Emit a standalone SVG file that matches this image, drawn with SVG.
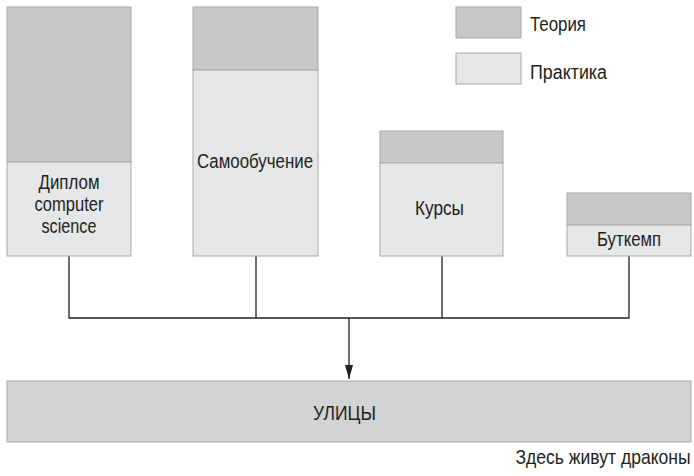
<svg xmlns="http://www.w3.org/2000/svg" width="694" height="476" viewBox="0 0 694 476">
<style>
.th{fill:#c7c8ca;stroke:#a7a9ac;stroke-width:1}
.pr{fill:#e6e7e8;stroke:#a7a9ac;stroke-width:1}
.st{fill:#d1d3d4;stroke:#a7a9ac;stroke-width:1}
.t{font-family:"Liberation Sans",Arial,sans-serif;font-size:20px;fill:#231f20}
.c{text-anchor:middle}
.ln{fill:none;stroke:#231f20;stroke-width:1.3}
</style>
<defs>
<marker id="arr" viewBox="0 0 14 8" refX="14" refY="4" markerWidth="14" markerHeight="8" markerUnits="userSpaceOnUse" orient="auto">
<path d="M0,0 L14,4 L0,8 z" fill="#231f20"/>
</marker>
</defs>
<rect width="694" height="476" fill="#ffffff"/>
<g id="connectors">
<path class="ln" d="M69 256 V318 H629 V256"/>
<path class="ln" d="M256 256 V318"/>
<path class="ln" d="M442 256 V318"/>
<path class="ln" d="M349 318 V379" marker-end="url(#arr)"/>
</g>
<g id="diploma">
<rect class="th" x="7" y="7" width="124" height="155"/>
<rect class="pr" x="7" y="162" width="124" height="94"/>
<text class="t c" x="69" y="189" textLength="61" lengthAdjust="spacingAndGlyphs">Диплом</text>
<text class="t c" x="69" y="211" textLength="69" lengthAdjust="spacingAndGlyphs">computer</text>
<text class="t c" x="69" y="233" textLength="55" lengthAdjust="spacingAndGlyphs">science</text>
</g>
<g id="selfstudy">
<rect class="th" x="193" y="7" width="125" height="63"/>
<rect class="pr" x="193" y="70" width="125" height="186"/>
<text class="t c" x="255" y="168" textLength="116" lengthAdjust="spacingAndGlyphs">Самообучение</text>
</g>
<g id="courses">
<rect class="th" x="380" y="131" width="123" height="32"/>
<rect class="pr" x="380" y="163" width="123" height="93"/>
<text class="t c" x="439.5" y="215" textLength="49" lengthAdjust="spacingAndGlyphs">Курсы</text>
</g>
<g id="bootcamp">
<rect class="th" x="567" y="193" width="124" height="32"/>
<rect class="pr" x="567" y="225" width="124" height="31"/>
<text class="t c" x="629" y="246" textLength="64" lengthAdjust="spacingAndGlyphs">Буткемп</text>
</g>
<g id="legend">
<rect class="th" x="456" y="7" width="65" height="31"/>
<text class="t" x="530" y="31" textLength="56" lengthAdjust="spacingAndGlyphs">Теория</text>
<rect class="pr" x="456" y="53" width="65" height="31"/>
<text class="t" x="530" y="79" textLength="77" lengthAdjust="spacingAndGlyphs">Практика</text>
</g>
<g id="streets">
<rect class="st" x="7" y="381" width="684" height="61"/>
<text class="t c" x="344.5" y="420" textLength="63" lengthAdjust="spacingAndGlyphs">УЛИЦЫ</text>
</g>
<g id="dragons">
<text class="t" transform="translate(603 464) scale(0.85 1)" x="0" y="0" text-anchor="middle" textLength="206" lengthAdjust="spacingAndGlyphs">Здесь живут драконы</text>
</g>
</svg>
